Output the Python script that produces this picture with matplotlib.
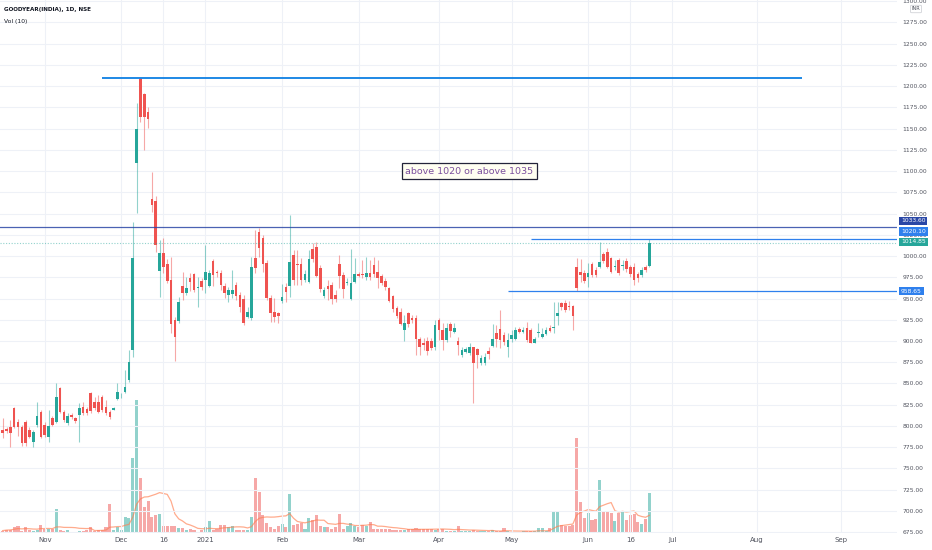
import numpy as np
import pandas as pd
import matplotlib
matplotlib.use("Agg")
import matplotlib.pyplot as plt
from matplotlib.ticker import FormatStrFormatter

SYMBOL = "GOODYEAR(INDIA), 1D, NSE"
VOL_LABEL = "Vol (10)"
LAST_DAY = "2021-06-23"
HOLIDAYS = ["2020-11-16", "2020-11-30", "2020-12-25", "2021-01-26", "2021-03-11",
            "2021-03-29", "2021-04-02", "2021-04-14", "2021-04-21", "2021-05-13"]
SPECIAL_SESSIONS = ["2020-11-14"]

opens = [
    795.2, 796.0, 799.2, 820.7, 805.0, 799.2, 805.0, 795.2, 781.6, 801.1,
    816.8, 801.1, 787.4, 809.0, 805.0, 845.1, 816.8, 803.1, 812.9, 809.0,
    812.9, 822.7, 819.6, 839.2, 828.6, 828.6, 834.5, 822.7, 816.0, 818.8,
    831.4, 834.9, 840.3, 854.1, 889.4, 1109.8, 1209.0, 1190.6, 1169.8, 1066.7,
    1065.1, 982.8, 1003.1, 990.6, 971.8, 924.7, 924.0, 964.7, 956.1, 974.5,
    978.4, 962.8, 970.6, 971.8, 965.1, 994.1, 981.2, 980.4, 964.7, 954.1,
    954.9, 965.5, 954.1, 949.4, 928.6, 926.7, 998.1, 1028.6, 1020.8, 991.4,
    950.2, 934.5, 932.6, 947.5, 963.9, 964.7, 1001.2, 990.6, 990.6, 971.8,
    969.8, 1007.9, 1011.0, 985.5, 953.3, 964.7, 965.9, 954.1, 990.6, 977.7,
    968.6, 949.0, 969.8, 978.8, 978.8, 974.9, 980.4, 989.4, 981.6, 976.5,
    971.0, 962.0, 953.0, 938.5, 934.5, 913.0, 933.4, 926.7, 926.7, 902.0,
    897.3, 900.4, 900.4, 893.3, 924.7, 913.0, 901.2, 920.0, 911.0, 900.4,
    883.5, 887.5, 885.5, 892.6, 890.2, 874.5, 874.5, 888.6, 894.1, 909.0,
    913.7, 907.1, 892.6, 902.0, 902.0, 913.7, 911.0, 914.9, 913.0, 898.1,
    909.8, 904.3, 908.2, 914.9, 915.3, 929.4, 945.1, 945.1, 941.2, 941.2,
    987.4, 981.6, 980.4, 974.9, 990.2, 983.5, 987.4, 1002.0, 1005.1, 997.3,
    986.7, 995.3, 988.2, 994.5, 987.4, 987.4, 978.8, 977.6, 987.4, 988.2,
]
highs = [
    809.0, 799.2, 807.0, 822.7, 807.8, 801.1, 807.0, 799.2, 795.2, 828.6,
    818.8, 805.0, 818.8, 811.7, 850.2, 846.2, 818.8, 814.9, 814.9, 810.2,
    827.4, 828.6, 822.7, 840.3, 834.5, 836.4, 836.4, 830.5, 818.8, 822.7,
    850.2, 838.4, 865.8, 889.4, 1039.6, 1179.6, 1209.4, 1192.2, 1175.7, 1099.2,
    1070.6, 1018.8, 1020.8, 996.5, 999.2, 928.6, 951.4, 981.6, 975.7, 979.6,
    980.4, 975.7, 973.7, 1013.0, 983.5, 996.1, 983.5, 983.5, 967.9, 963.9,
    983.5, 969.8, 958.0, 954.1, 940.4, 999.2, 1030.6, 1032.6, 1024.7, 995.3,
    954.1, 950.2, 934.5, 966.7, 967.9, 1048.3, 1007.1, 1007.1, 997.3, 983.5,
    1007.1, 1014.9, 1016.9, 989.4, 963.9, 971.8, 969.8, 960.0, 1001.2, 981.6,
    973.7, 1007.9, 997.3, 981.6, 995.3, 999.2, 995.3, 999.2, 995.3, 978.8,
    973.7, 963.9, 954.1, 941.2, 938.5, 930.6, 934.5, 930.6, 930.6, 905.1,
    903.2, 905.1, 903.2, 924.7, 926.7, 920.8, 920.8, 922.8, 921.6, 905.1,
    893.3, 893.3, 897.3, 893.3, 891.4, 883.5, 885.5, 893.3, 920.0, 918.8,
    936.5, 911.0, 909.0, 913.0, 916.9, 916.9, 916.1, 922.8, 914.9, 905.1,
    920.8, 914.9, 916.9, 918.8, 946.3, 946.3, 946.3, 948.2, 947.5, 942.4,
    997.3, 996.1, 983.5, 991.4, 993.3, 987.4, 1016.9, 1005.1, 1009.0, 999.2,
    995.3, 997.3, 995.3, 997.3, 989.4, 991.4, 981.6, 987.4, 989.4, 1020.1,
]
lows = [
    785.4, 792.1, 775.6, 797.2, 788.2, 777.0, 777.0, 785.4, 775.6, 799.2,
    785.4, 786.6, 781.5, 799.9, 803.9, 815.6, 805.0, 801.1, 807.8, 803.9,
    781.5, 812.9, 812.9, 815.6, 818.8, 814.9, 816.8, 812.9, 807.8, 818.8,
    830.5, 832.5, 839.2, 852.1, 881.6, 1050.2, 1158.0, 1124.7, 1150.2, 1052.2,
    1005.1, 952.2, 979.6, 967.9, 909.0, 876.9, 920.8, 948.2, 954.1, 959.2,
    958.0, 940.4, 960.0, 956.1, 963.9, 964.7, 975.7, 960.0, 950.2, 946.3,
    950.2, 948.2, 934.5, 918.8, 926.7, 924.7, 979.6, 999.2, 981.6, 948.2,
    922.8, 922.8, 920.8, 944.3, 946.3, 952.2, 965.9, 965.9, 965.9, 969.8,
    968.6, 993.4, 974.9, 958.1, 950.2, 948.2, 943.5, 946.3, 962.0, 950.2,
    965.9, 948.2, 967.9, 974.9, 973.7, 971.8, 971.8, 974.9, 962.0, 965.9,
    960.0, 946.3, 934.5, 926.7, 918.8, 900.4, 916.9, 920.8, 883.5, 883.5,
    889.4, 883.5, 889.4, 889.4, 901.2, 889.4, 899.2, 905.1, 909.0, 883.5,
    881.6, 885.5, 883.5, 827.5, 867.9, 871.8, 871.8, 878.4, 893.3, 893.3,
    891.4, 895.3, 881.6, 899.2, 901.2, 909.0, 909.0, 899.2, 897.3, 897.3,
    905.1, 903.2, 907.1, 911.0, 909.0, 918.8, 936.5, 934.5, 936.5, 913.0,
    958.65, 969.8, 967.9, 963.9, 975.7, 975.7, 985.5, 991.4, 985.5, 979.6,
    983.5, 977.6, 983.5, 981.6, 975.7, 965.9, 969.8, 975.7, 981.6, 986.7,
]
closes = [
    792.1, 794.0, 791.4, 799.2, 799.2, 779.6, 779.6, 787.4, 793.3, 811.3,
    787.4, 789.4, 800.0, 801.1, 833.7, 816.8, 807.0, 811.3, 810.2, 806.2,
    820.7, 814.9, 814.9, 818.0, 820.7, 816.8, 818.8, 814.9, 810.2, 821.5,
    840.4, 835.6, 846.2, 875.7, 998.1, 1149.0, 1163.9, 1163.9, 1160.8, 1060.0,
    1013.0, 1003.1, 986.7, 971.0, 920.0, 904.3, 946.3, 956.1, 962.8, 969.8,
    960.0, 964.0, 963.9, 981.6, 979.6, 977.7, 979.6, 965.5, 956.1, 960.0,
    960.0, 953.3, 940.4, 920.8, 934.5, 987.5, 985.5, 1009.0, 990.6, 950.2,
    932.6, 928.6, 929.8, 951.4, 958.1, 993.4, 971.8, 989.0, 971.8, 978.8,
    996.1, 996.1, 976.5, 960.8, 960.0, 960.8, 949.0, 949.0, 976.5, 960.8,
    969.8, 968.6, 978.8, 976.5, 977.3, 980.4, 974.9, 978.8, 973.7, 967.9,
    963.2, 947.1, 937.3, 929.4, 920.0, 921.6, 920.0, 924.7, 902.0, 893.3,
    895.3, 888.6, 891.4, 918.8, 913.0, 901.2, 914.9, 912.2, 914.9, 895.3,
    889.4, 890.2, 892.6, 874.5, 883.5, 880.0, 880.8, 884.7, 902.0, 902.0,
    901.2, 899.2, 901.2, 907.1, 913.0, 911.0, 913.0, 901.2, 898.1, 902.0,
    911.0, 908.2, 913.0, 912.2, 916.1, 932.6, 939.6, 936.5, 939.6, 929.4,
    961.9, 977.6, 971.0, 979.6, 977.6, 977.6, 993.3, 994.5, 987.4, 981.6,
    988.2, 979.6, 989.8, 984.3, 978.8, 971.8, 973.7, 983.5, 983.5, 1014.85,
]
# volume in thousands of shares
volumes = [
    12, 17, 17, 28, 37, 12, 32, 15, 8, 15,
    38, 20, 22, 20, 120, 15, 8, 15, 4, 4,
    8, 12, 15, 32, 12, 15, 15, 32, 145, 15,
    28, 15, 78, 75, 375, 665, 275, 128, 158, 78,
    92, 95, 33, 33, 33, 33, 23, 23, 15, 20,
    15, 4, 15, 28, 62, 15, 20, 42, 42, 28,
    37, 17, 17, 17, 17, 78, 275, 207, 90, 48,
    28, 20, 37, 45, 28, 195, 42, 45, 48, 20,
    73, 65, 90, 33, 28, 28, 20, 28, 95, 20,
    37, 50, 37, 28, 42, 33, 53, 20, 20, 20,
    20, 20, 15, 15, 15, 15, 20, 20, 25, 20,
    20, 20, 20, 15, 20, 20, 12, 12, 8, 33,
    12, 8, 8, 15, 12, 8, 8, 8, 15, 8,
    8, 23, 8, 4, 7, 7, 8, 8, 8, 12,
    23, 23, 12, 25, 108, 107, 42, 33, 33, 42,
    475, 157, 75, 100, 65, 70, 267, 107, 107, 100,
    62, 98, 107, 65, 92, 95, 53, 45, 70, 198,
]

price_ticks = list(range(675, 1301, 25))
date_ticks = ["2020-11-02", "2020-12-01", "2020-12-16", "2021-01-01", "2021-02-01",
              "2021-03-01", "2021-04-01", "2021-05-03", "2021-06-01", "2021-06-16",
              "2021-07-01", "2021-08-02", "2021-09-01"]
date_tick_labels = ["Nov", "Dec", "16", "2021", "Feb", "Mar", "Apr", "May",
                    "Jun", "16", "Jul", "Aug", "Sep"]

# drawn levels: price, start day, end day (None = to the right edge)
top_level = (1209.0, "2020-11-23", "2021-08-18")
resistance_far = 1033.60
resistance_near = (1020.10, "2021-05-10")
support = (958.65, "2021-04-30")
last_price = closes[-1]

NOTE = "above 1020 or above 1035"
note_day = "2021-04-15"
note_price = 1100

GREEN = "#26a69a"
RED = "#ef5350"
BLUE = "#2f80ed"
NAVY = "#2a47a6"
TEXT = "#50535e"


def main():
    o = np.array(opens)
    h = np.array(highs)
    l = np.array(lows)
    c = np.array(closes)
    v = np.array(volumes)
    n = len(c)

    trading = pd.bdate_range("2020-10-01", LAST_DAY)
    trading = trading.drop(pd.to_datetime(HOLIDAYS))
    trading = trading.union(pd.to_datetime(SPECIAL_SESSIONS))
    days = trading[-n:]
    future = pd.bdate_range(pd.Timestamp(LAST_DAY) + pd.Timedelta(days=1), "2021-09-30")
    calendar = days.append(future)
    pos = {d: i for i, d in enumerate(calendar)}

    def bar_of(day):
        return pos[pd.Timestamp(day)]

    x = np.arange(n)
    up = c >= o
    colors = np.where(up, GREEN, RED)

    fig = plt.figure(figsize=(9.32, 5.5), dpi=100)
    fig.patch.set_facecolor("white")
    ax = fig.add_axes([0, 17 / 550, 897 / 932, 533 / 550])
    vax = ax.twinx()
    ax.set_zorder(vax.get_zorder() + 1)
    ax.patch.set_visible(False)

    x_right = 233.7
    ax.set_xlim(-0.7, x_right)
    ax.set_ylim(674.1, 1301.2)

    # volume + MA(10)
    vax.bar(x, v, width=0.8, color=colors, alpha=0.5, linewidth=0)
    vol_ma = pd.Series(v).rolling(10, min_periods=1).mean()
    vax.plot(x, vol_ma, color="#ff7f50", alpha=0.65, linewidth=0.9)
    vax.set_ylim(0, 5 * 533)
    vax.set_yticks([])
    for s in vax.spines.values():
        s.set_visible(False)

    # candles
    ax.vlines(x, l, h, colors=colors, linewidth=0.8, alpha=0.5, zorder=3)
    ax.bar(x, np.maximum(np.abs(c - o), 0.9), bottom=np.minimum(o, c), width=0.68,
           color=colors, linewidth=0, zorder=4)

    # drawn levels
    ax.hlines(top_level[0], bar_of(top_level[1]), bar_of(top_level[2]),
              color="#1e88e5", linewidth=1.4, zorder=5)
    ax.axhline(resistance_far, color=NAVY, linewidth=0.9, alpha=0.85, zorder=5)
    ax.hlines(resistance_near[0], bar_of(resistance_near[1]), x_right,
              color=BLUE, linewidth=0.9, zorder=5)
    ax.axhline(last_price, color=GREEN, linewidth=0.8, alpha=0.5,
               linestyle=(0, (1, 1.5)), zorder=5)
    ax.hlines(support[0], bar_of(support[1]), x_right,
              color=BLUE, linewidth=0.9, zorder=5)

    # price labels on the scale
    labels = [(resistance_far, NAVY, 6.5), (resistance_near[0], BLUE, 7.4),
              (last_price, GREEN, 1.4), (support[0], BLUE, 0.0)]
    for level, col, dy in labels:
        ax.annotate(f"{level:.2f}", xy=(1, level), xycoords=("axes fraction", "data"),
                    xytext=(4, dy), textcoords="offset pixels", ha="left", va="center",
                    fontsize=4.3, color="white", annotation_clip=False, zorder=10,
                    bbox=dict(boxstyle="square,pad=0.3", fc=col, ec="none"))

    ax.text(bar_of(note_day), note_price, NOTE, ha="center", va="center",
            fontsize=6.8, color="#7b4f9d", zorder=11,
            bbox=dict(boxstyle="square,pad=0.35", fc="#fffef2", ec="#23233a", lw=0.9))

    # axes cosmetics
    ax.yaxis.tick_right()
    ax.set_yticks(price_ticks)
    ax.yaxis.set_major_formatter(FormatStrFormatter("%.2f"))
    ax.set_xticks([bar_of(d) for d in date_ticks])
    ax.set_xticklabels(date_tick_labels)
    ax.tick_params(axis="y", length=0, pad=4, labelsize=4.3, labelcolor=TEXT)
    ax.tick_params(axis="x", length=0, pad=3, labelsize=5.0, labelcolor=TEXT)
    ax.grid(True, color="#eef1f7", linewidth=0.8, zorder=0)
    ax.set_axisbelow(True)
    for s in ax.spines.values():
        s.set_visible(False)

    fig.text(4 / 932, 1 - 10 / 550, SYMBOL, fontsize=4.1, fontweight="bold",
             color="#131722", va="center")
    fig.text(4 / 932, 1 - 22 / 550, VOL_LABEL, fontsize=4.3, color="#131722", va="center")
    fig.text(916 / 932, 1 - 9 / 550, "INR", fontsize=3.6, ha="center", va="center",
             color=TEXT, bbox=dict(boxstyle="round,pad=0.25", fc="white", ec="#c8cad0", lw=0.5))

    fig.savefig("out.png", dpi=100)


if __name__ == "__main__":
    main()
